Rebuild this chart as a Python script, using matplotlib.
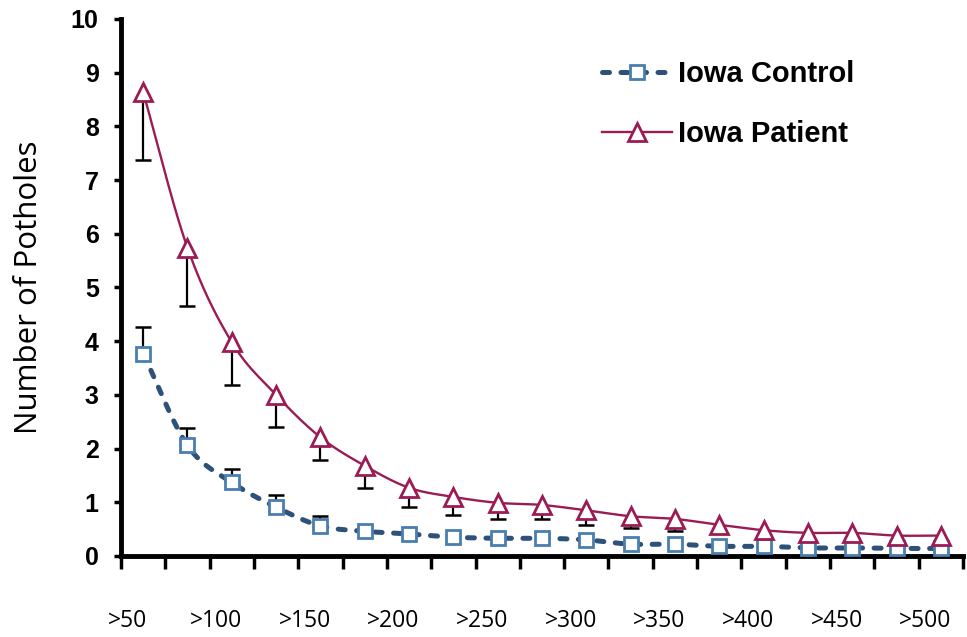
import numpy as np
import matplotlib
matplotlib.use("Agg")
import matplotlib.pyplot as plt
from matplotlib.lines import Line2D

# ---- data ----
categories = [">50", ">75", ">100", ">125", ">150", ">175", ">200", ">225", ">250", ">275",
              ">300", ">325", ">350", ">375", ">400", ">425", ">450", ">475", ">500"]
control = [3.77, 2.06, 1.37, 0.91, 0.56, 0.46, 0.41, 0.35, 0.33, 0.33,
           0.30, 0.22, 0.22, 0.18, 0.18, 0.15, 0.15, 0.14, 0.14]
control_err_top = [4.26, 2.38, 1.62, 1.13, 0.74, np.nan, np.nan, np.nan, np.nan, np.nan,
                   np.nan, np.nan, np.nan, np.nan, np.nan, np.nan, np.nan, np.nan, np.nan]
patient = [8.64, 5.74, 3.98, 3.00, 2.21, 1.68, 1.27, 1.10, 0.99, 0.95,
           0.85, 0.74, 0.69, 0.58, 0.48, 0.43, 0.43, 0.38, 0.38]
patient_err_bottom = [7.38, 4.65, 3.18, 2.40, 1.78, 1.26, 0.91, 0.76, 0.69, 0.69,
                      0.58, 0.52, 0.46, np.nan, np.nan, np.nan, np.nan, np.nan, np.nan]
series_names = ["Iowa Control", "Iowa Patient"]
y_label = "Number of Potholes"

CTRL_LINE = "#2E5179"
CTRL_MARK = "#4A7DB0"
PAT = "#9B1C55"


def smooth(xs, ys, n=30):
    """Catmull-Rom (Excel-style smoothed line) through the points."""
    xs = np.asarray(xs, float)
    ys = np.asarray(ys, float)
    P = np.column_stack([xs, ys])
    P = np.vstack([P[0] - (P[1] - P[0]), P, P[-1] + (P[-1] - P[-2])])
    out = []
    t = np.linspace(0, 1, n, endpoint=False)[:, None]
    for i in range(1, len(P) - 2):
        p0, p1, p2, p3 = P[i - 1], P[i], P[i + 1], P[i + 2]
        c1 = p1 + (p2 - p0) / 6
        c2 = p2 - (p3 - p1) / 6
        seg = ((1 - t) ** 3) * p1 + 3 * ((1 - t) ** 2) * t * c1 + 3 * (1 - t) * t ** 2 * c2 + t ** 3 * p2
        out.append(seg)
    out.append(P[-2][None, :])
    out = np.vstack(out)
    return out[:, 0], out[:, 1]


x = np.arange(1, len(categories) + 1)

fig = plt.figure(figsize=(9.67, 6.37), dpi=100)
ax = fig.add_axes([0.1251, 0.1272, 0.8708, 0.8430])

# one-sided error bars (bar + single cap at the far end)
c_top = np.array(control_err_top)
ax.vlines(x, control, c_top, color="black", lw=1.6, zorder=2)
ax.plot(x, c_top, ls="none", marker="_", ms=11, mew=1.8, color="black", zorder=2)
p_bot = np.array(patient_err_bottom)
ax.vlines(x, p_bot, patient, color="black", lw=1.6, zorder=2)
ax.plot(x, p_bot, ls="none", marker="_", ms=11, mew=1.8, color="black", zorder=2)

# smoothed lines
sx, sy = smooth(x, control)
ax.plot(sx, sy, color=CTRL_LINE, lw=3.6, dashes=(1.4, 2.3), dash_capstyle="round", zorder=3)
ax.plot(x, control, ls="none", marker="s", ms=10, mfc="white", mec=CTRL_MARK, mew=2.0, zorder=4)

sx, sy = smooth(x, patient)
ax.plot(sx, sy, color=PAT, lw=1.7, zorder=5)
ax.plot(x, patient, ls="none", marker="^", ms=13, mfc="white", mec=PAT, mew=2.0, zorder=6)

ax.set_xlim(0.5, len(categories) + 0.5)
ax.set_ylim(0, 10)

for s in ["top", "right"]:
    ax.spines[s].set_visible(False)
ax.spines["left"].set_linewidth(3.5)
ax.spines["bottom"].set_linewidth(3.5)

ax.set_yticks(np.arange(0, 11, 1))
ax.set_yticklabels([str(v) for v in range(0, 11)], fontsize=18, fontweight="bold",
                   family="Liberation Sans")
ax.tick_params(axis="y", direction="out", length=5, width=2.5, pad=11)

# x: ticks at category boundaries, labels every other category (offset like the original)
ax.set_xticks(np.arange(0.5, len(categories) + 1, 1))
ax.set_xticklabels([])
ax.tick_params(axis="x", which="major", direction="out", length=9, width=2.5)
lab_idx = np.arange(0, len(categories), 2)
ax.set_xticks(x[lab_idx] - 0.35, minor=True)
ax.set_xticklabels([categories[i] for i in lab_idx], minor=True, fontsize=16.5,
                   family="Open Sans")
ax.tick_params(axis="x", which="minor", length=0, pad=38)

ax.set_ylabel(y_label, fontsize=22.5, family="Open Sans")
ax.yaxis.set_label_coords(-0.091, 0.5)

handles = [
    Line2D([], [], color=CTRL_LINE, lw=3.6, dashes=(1.4, 2.3), dash_capstyle="round",
           marker="s", ms=10, mfc="white", mec=CTRL_MARK, mew=2.0),
    Line2D([], [], color=PAT, lw=1.7, marker="^", ms=13, mfc="white", mec=PAT, mew=2.0),
]
fig.legend(handles, series_names, loc="upper left", bbox_to_anchor=(602 / 967, 1 - 60 / 637),
           frameon=False, prop={"family": "Liberation Sans", "weight": "bold", "size": 21},
           handlelength=2.4, handletextpad=0.2, labelspacing=1.1, borderpad=0, borderaxespad=0)

fig.savefig("out.png", dpi=100)
